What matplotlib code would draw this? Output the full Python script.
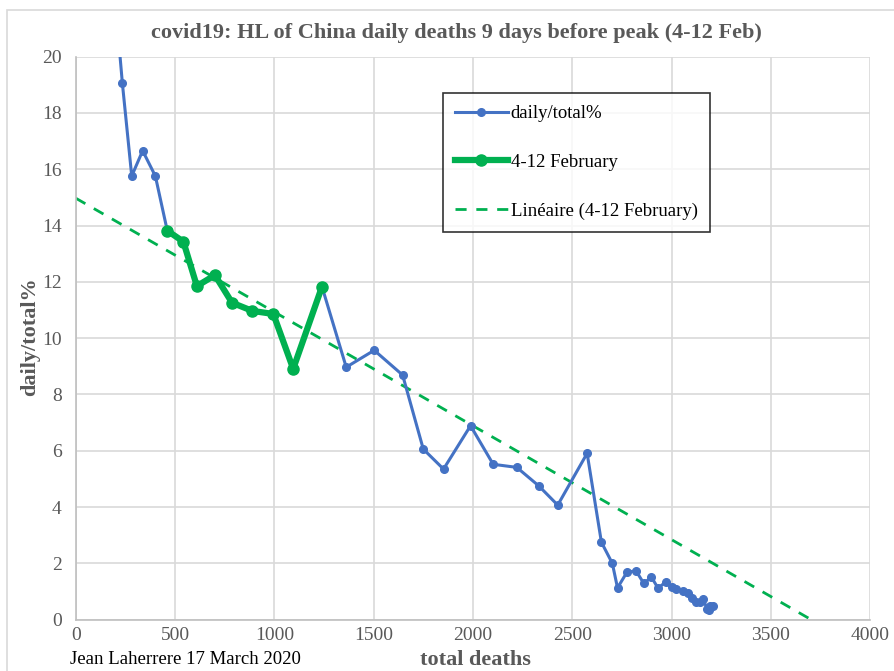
import numpy as np
import matplotlib.pyplot as plt
from matplotlib.patches import Rectangle

plt.rcParams['font.family'] = ['Liberation Serif', 'DejaVu Serif']

# daily/total % against total deaths
total_deaths = [180, 235, 282, 337, 401, 461, 542, 610, 701, 787, 889, 995, 1095,
                1240, 1362, 1503, 1646, 1750, 1852, 1988, 2102, 2221, 2332, 2427,
                2575, 2647, 2702, 2728, 2775, 2821, 2860, 2899, 2932, 2971, 3001,
                3025, 3058, 3083, 3105, 3122, 3142, 3158, 3180, 3188, 3196, 3209]
daily_pct = [23.5, 19.05, 15.76, 16.66, 15.76, 13.82, 13.43, 11.85, 12.24, 11.26,
             10.97, 10.86, 8.91, 11.83, 8.97, 9.57, 8.69, 6.06, 5.35, 6.89, 5.52,
             5.41, 4.75, 4.07, 5.91, 2.75, 2.00, 1.13, 1.68, 1.74, 1.29, 1.51, 1.12,
             1.34, 1.15, 1.09, 1.02, 0.96, 0.78, 0.63, 0.64, 0.72, 0.39, 0.35, 0.49,
             0.49]

# 4-12 February subset
feb_x = [461, 542, 610, 701, 787, 889, 995, 1095, 1240]
feb_y = [13.82, 13.43, 11.85, 12.24, 11.26, 10.97, 10.86, 8.91, 11.83]

xticks = [0, 500, 1000, 1500, 2000, 2500, 3000, 3500, 4000]
yticks = [0, 2, 4, 6, 8, 10, 12, 14, 16, 18, 20]

blue = '#4472C4'
green = '#00B050'
grey = '#595959'

fig = plt.figure(figsize=(8.94, 6.71), dpi=100)
ax = fig.add_axes([0.0847, 0.0765, 0.8886, 0.8390])

# chart area frame
fig.patches.append(Rectangle((7 / 894, -0.01), 1.0, 1 - 10 / 671 + 0.01,
                             transform=fig.transFigure, fill=False,
                             edgecolor='#d9d9d9', lw=1.2))

ax.plot(total_deaths, daily_pct, '-o', color=blue, lw=2.2, ms=5.5,
        label='daily/total%', zorder=3)
ax.plot(feb_x, feb_y, '-o', color=green, lw=4.5, ms=8,
        label='4-12 February', zorder=4)

# linear trendline on the 4-12 February points
b, a = np.polyfit(feb_x, feb_y, 1)
tx = np.array([0, 4000])
ax.plot(tx, a + b * tx, '--', color=green, lw=2, dashes=(4, 3.5),
        label='Linéaire (4-12 February)', zorder=2)

ax.set_xlim(0, 4000)
ax.set_ylim(0, 20)
ax.set_xticks(xticks)
ax.set_yticks(yticks)
ax.grid(True, color='#d9d9d9', lw=1.2)
ax.set_axisbelow(True)
ax.tick_params(length=0, labelsize=14, labelcolor=grey)
ax.tick_params(axis='y', pad=10)
ax.tick_params(axis='x', pad=5)
for s in ['top', 'right']:
    ax.spines[s].set_visible(False)
for s in ['left', 'bottom']:
    ax.spines[s].set_color('#bfbfbf')
    ax.spines[s].set_linewidth(1.2)

leg = ax.legend(loc='upper left', bbox_to_anchor=(0.4624, 0.9355), fontsize=13.5,
                frameon=True, fancybox=False, edgecolor='black',
                labelspacing=1.68, handlelength=2.8, handletextpad=0.15,
                borderpad=0.65, borderaxespad=0)
leg.get_frame().set_linewidth(1.2)

fig.text(0.511, 1 - 33 / 671,
         'covid19: HL of China daily deaths 9 days before peak (4-12 Feb)',
         ha='center', va='center', fontsize=16, fontweight='bold', color=grey)
fig.text(30 / 894, 1 - 337 / 671, 'daily/total%', rotation=90,
         ha='center', va='center', fontsize=16, fontweight='bold', color=grey)
fig.text(475 / 894, 1 - 660 / 671, 'total deaths',
         ha='center', va='center', fontsize=16, fontweight='bold', color=grey)
fig.text(70 / 894, 1 - 660 / 671, 'Jean Laherrere 17 March 2020',
         ha='left', va='center', fontsize=13.5, color='black')

fig.savefig('out.png', dpi=100)
